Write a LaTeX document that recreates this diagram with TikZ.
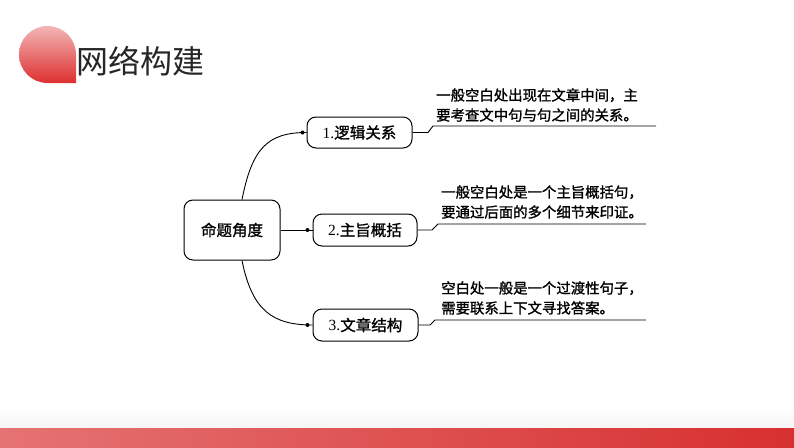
\documentclass[tikz,border=0pt]{standalone}
\usepackage{fontspec}
\newfontfamily\cjk{Noto Sans CJK SC}
\newfontfamily\cjkm[FakeBold=1.2]{Noto Sans CJK SC}
\newfontfamily\numfont{Liberation Serif}
\definecolor{barL}{RGB}{229,115,115}
\definecolor{barR}{RGB}{216,48,48}
\definecolor{dropT}{RGB}{242,182,182}
\definecolor{dropB}{RGB}{222,48,48}
\definecolor{titlegray}{RGB}{38,38,38}

\begin{document}
\begin{tikzpicture}[x=1pt,y=-1pt,
    box/.style={draw,line width=1pt,rounded corners=9pt,inner sep=0pt,
      font=\fontsize{15.5}{18}\selectfont\cjkm},
    tip/.style={font=\fontsize{14.4}{20}\selectfont\cjkm,align=left,anchor=west,inner sep=0pt},
    link/.style={line width=0.9pt}]
    \useasboundingbox (0,0) rectangle (794,447);
    % title
    \shade[top color=dropT,bottom color=dropB] (76,83) -- (76,54.5)
        arc[start angle=0,end angle=-270,radius=28.5] -- cycle;
    \node[anchor=west,inner sep=0pt,text=titlegray,font=\fontsize{32}{32}\selectfont\cjk] (title) at (76,61) {网络构建};
    % bottom bar
    \shade[top color=white,bottom color=black!4] (0,410) rectangle (794,428);
    \shade[left color=barL,right color=barR] (0,428) rectangle (794,447);
    % boxes
    \node[box,minimum width=96,minimum height=60] (angle) at (232,230) {命题角度};
    \node[box,minimum width=105,minimum height=31] (logic) at (359.5,132.5) {{\numfont 1.}逻辑关系};
    \node[box,minimum width=104,minimum height=32] (theme) at (365,230) {{\numfont 2.}主旨概括};
    \node[box,minimum width=105,minimum height=32] (struct) at (365.5,325) {{\numfont 3.}文章结构};
    % left links
    \draw[link] ([xshift=10pt]angle.north) .. controls +(10,-50) and +(-40,0) .. (logic.west);
    \draw[link] (angle.east) -- (theme.west);
    \draw[link] ([xshift=10pt]angle.south) .. controls +(10,50) and +(-40,0) .. (struct.west);
    \fill ([xshift=-4pt]logic.west) circle (2pt);
    \fill ([xshift=-5pt]theme.west) circle (2pt);
    \fill ([xshift=-5pt]struct.west) circle (2pt);
    % notes
    \coordinate (k1) at (428,132.5);
    \coordinate (u1) at (433,126);
    \coordinate (e1) at (656,126);
    \coordinate (k2) at (432,230);
    \coordinate (u2) at (438,224);
    \coordinate (e2) at (646,224);
    \coordinate (k3) at (430,325);
    \coordinate (u3) at (435,320);
    \coordinate (e3) at (646,320);
    \draw[link] (logic.east) -- (k1) -- (u1) -- (e1);
    \draw[link] (theme.east) -- (k2) -- (u2) -- (e2);
    \draw[link] (struct.east) -- (k3) -- (u3) -- (e3);
    \node[tip] (note1) at (436,105) {一般空白处出现在文章中间，主\\要考查文中句与句之间的关系。};
    \node[tip] (note2) at (441,202) {一般空白处是一个主旨概括句，\\要通过后面的多个细节来印证。};
    \node[tip] (note3) at (441,298) {空白处一般是一个过渡性句子，\\需要联系上下文寻找答案。};
\end{tikzpicture}
\end{document}
